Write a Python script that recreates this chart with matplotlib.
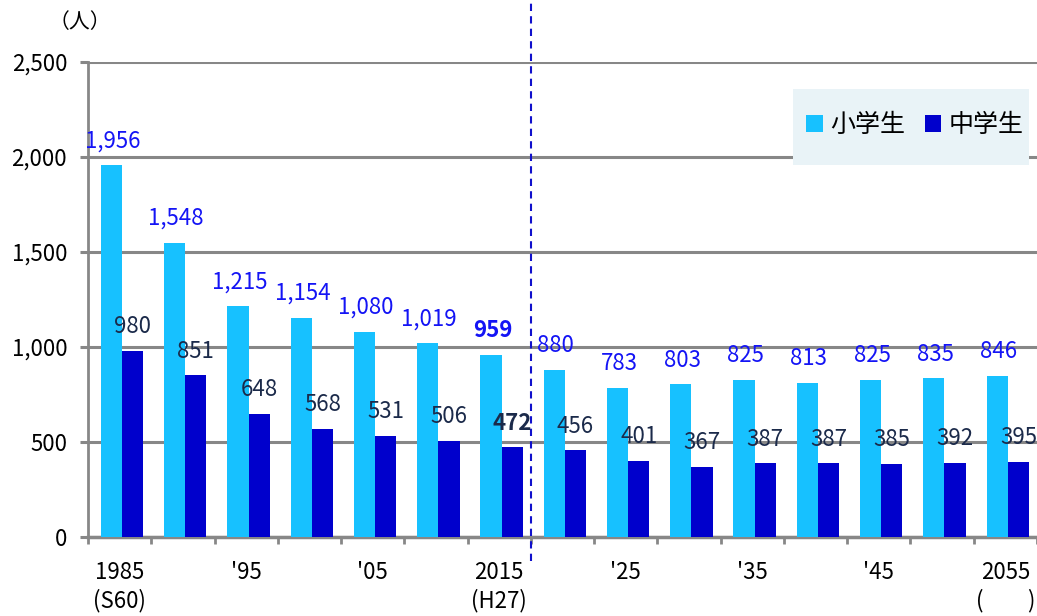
import numpy as np
import matplotlib.pyplot as plt
from matplotlib.patches import Rectangle

plt.rcParams['font.family'] = ['Noto Sans CJK JP', 'DejaVu Sans']

# --- データ ---
years = [1985, 1990, 1995, 2000, 2005, 2010, 2015, 2020, 2025,
         2030, 2035, 2040, 2045, 2050, 2055]
shogakusei = [1956, 1548, 1215, 1154, 1080, 1019, 959, 880, 783,
              803, 825, 813, 825, 835, 846]
chugakusei = [980, 851, 648, 568, 531, 506, 472, 456, 401,
              367, 387, 387, 385, 392, 395]
xlabels = ['1985\n(S60)', '', "'95", '', "'05", '', '2015\n(H27)', '',
           "'25", '', "'35", '', "'45", '', '2055\n(\u3000\u3000)']
yticks = [0, 500, 1000, 1500, 2000, 2500]

C_LIGHT = '#17C1FF'
C_DARK = '#0000CC'
C_GRID = '#878787'

fig = plt.figure(figsize=(10.37, 6.16), dpi=100)
ax = fig.add_axes([88 / 1037, 1 - 537 / 616, 949 / 1037, 475 / 616])

x = np.arange(len(years))
w = 0.335
ax.bar(x - 0.13, shogakusei, width=w, color=C_LIGHT, zorder=3, label='小学生')
ax.bar(x + 0.205, chugakusei, width=w, color=C_DARK, zorder=3, label='中学生')

# 値ラベル
for i in range(len(years)):
    bold = 'bold' if years[i] == 2015 else 'normal'
    ax.annotate(f'{shogakusei[i]:,}', (x[i] - 0.13, shogakusei[i]),
                xytext=(1, 17.5), textcoords='offset points', ha='center',
                va='center', fontsize=16, color='#1414F5', fontweight=bold,
                zorder=5)
    ax.annotate(f'{chugakusei[i]:,}', (x[i] + 0.205, chugakusei[i]),
                xytext=(0, 17.5), textcoords='offset points', ha='center',
                va='center', fontsize=16, color='#1B2A4A', fontweight=bold,
                zorder=5)

# 軸
ax.set_xlim(-0.5, 14.49)
ax.set_ylim(0, 2500)
ax.set_yticks(yticks)
ax.set_yticklabels([f'{v:,}' for v in yticks], fontsize=16)
ax.set_xticks(x)
ax.set_xticklabels(xlabels, fontsize=16, linespacing=1.3)
ax.set_xticks(np.arange(-0.5, 15, 1), minor=True)
ax.tick_params(axis='x', which='major', length=0, pad=17)
ax.tick_params(axis='x', which='minor', length=5, width=2, color=C_GRID,
               direction='out')
ax.tick_params(axis='y', length=6, width=2.2, color=C_GRID, pad=9)

ax.yaxis.grid(True, color=C_GRID, linewidth=2.2, zorder=0)
ax.set_axisbelow(True)
for s in ['top', 'right']:
    ax.spines[s].set_visible(False)
ax.spines['left'].set_color(C_GRID)
ax.spines['left'].set_linewidth(2)
ax.spines['bottom'].set_color(C_GRID)
ax.spines['bottom'].set_linewidth(2.5)

# 推計の境界線
ax.axvline(6.5, ymin=-0.05, ymax=1.14, color='#1010CC', linewidth=1.5,
           linestyle=(0, (3.5, 2.5)), clip_on=False, zorder=4)

# 凡例
ax.add_patch(Rectangle(((793 - 88) / 949, (537 - 165) / 475),
                       236 / 949, 76 / 475, transform=ax.transAxes,
                       facecolor='#E9F3F7', edgecolor='none', zorder=6))
leg = ax.legend(loc='center', bbox_to_anchor=((915 - 88) / 949, (537 - 125) / 475),
                ncol=2, frameon=False, fontsize=18, handlelength=0.65,
                handleheight=0.65, handletextpad=0.3, columnspacing=0.8)
leg.set_zorder(7)

fig.text(80 / 1037, 1 - 22 / 616, '（人）', fontsize=15, ha='center', va='center')

fig.savefig('out.png', dpi=100)
